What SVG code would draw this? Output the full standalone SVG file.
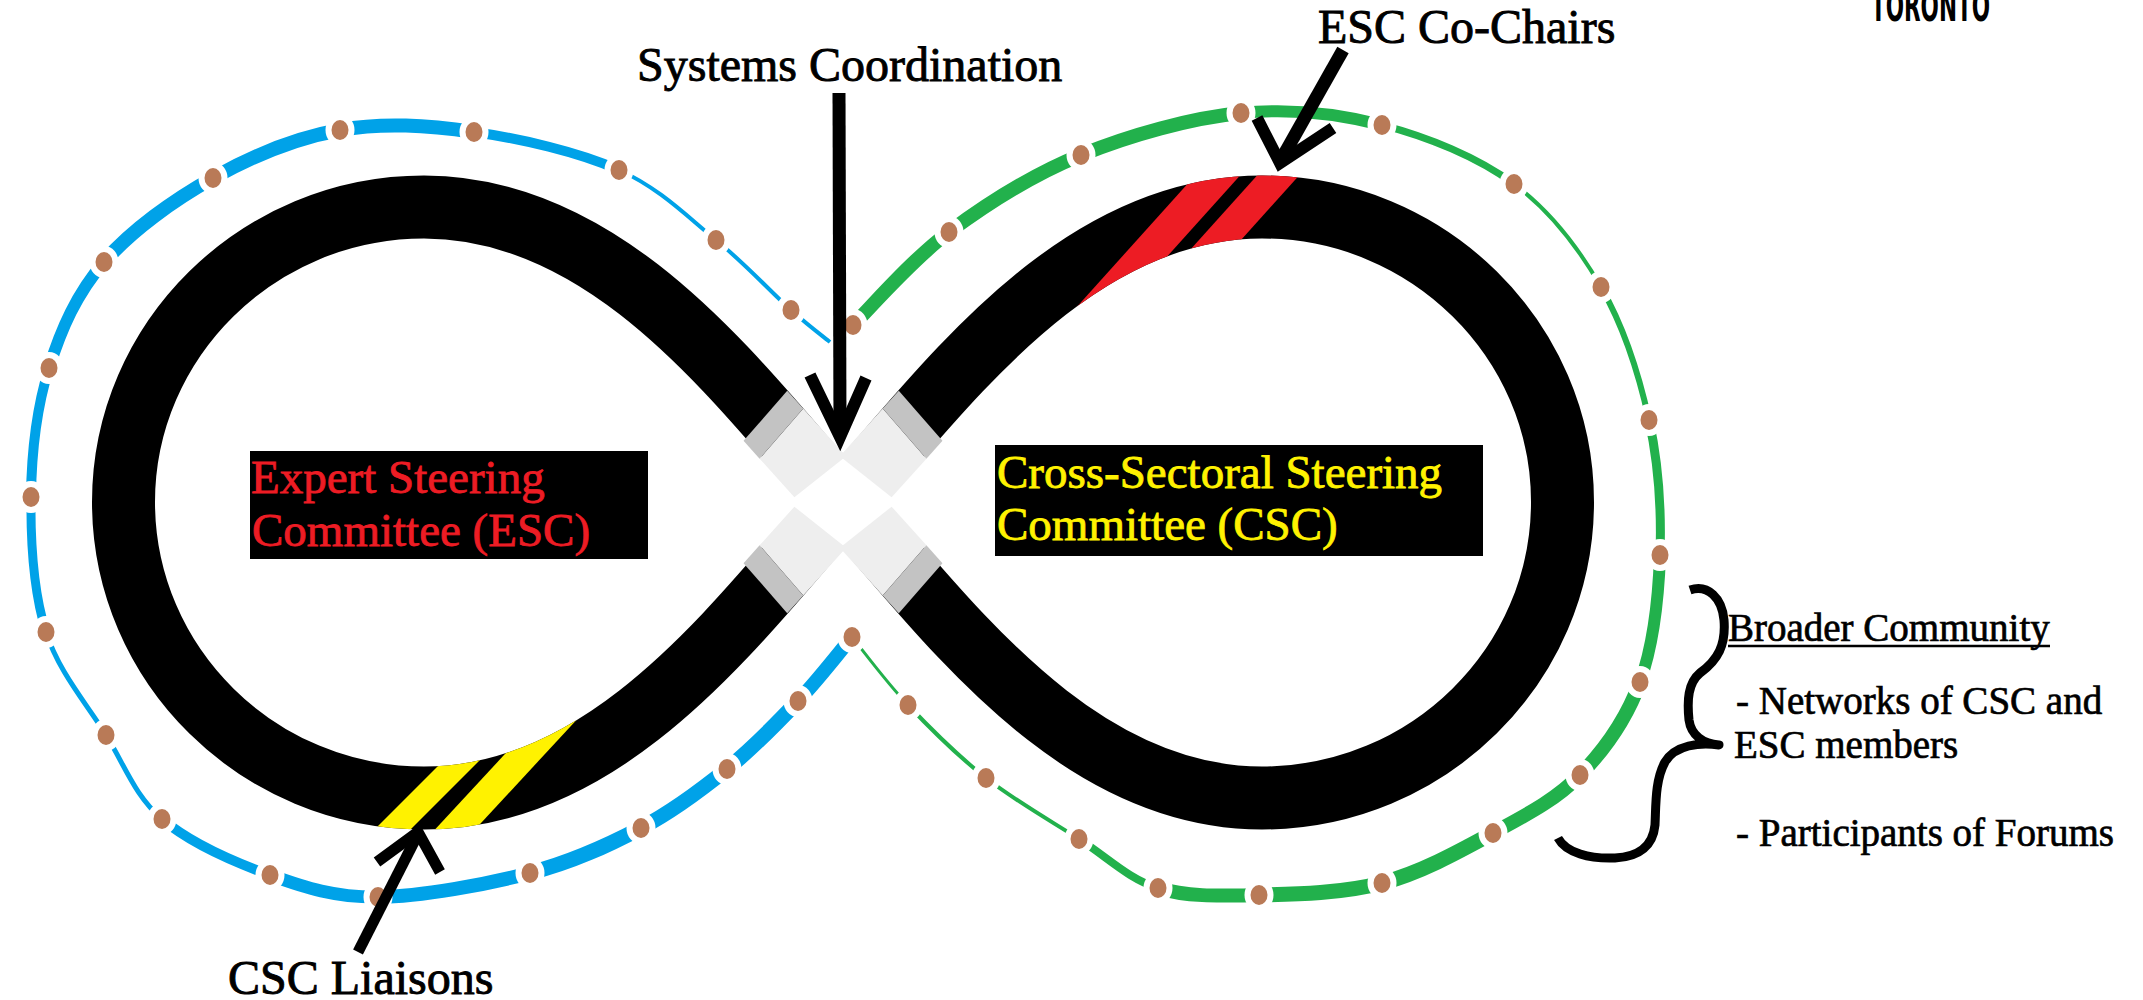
<svg xmlns="http://www.w3.org/2000/svg" xmlns:xlink="http://www.w3.org/1999/xlink" width="2143" height="1000" viewBox="0 0 2143 1000">
<style>
.serif{font-family:"Liberation Serif","Times New Roman",serif;}
.lbl{font-size:48px;fill:#000;stroke:#000;stroke-width:0.9;}
.box{font-size:47px;stroke-width:0.8;}
.red{fill:#ED1C24;stroke:#ED1C24;}
.yel{fill:#FFF200;stroke:#FFF200;}
.bc{font-size:39px;fill:#000;stroke:#000;stroke-width:0.7;}
.blue path{stroke:#00A2E8;fill:none;stroke-linecap:butt;}
.green path{stroke:#22B14C;fill:none;stroke-linecap:butt;}
.w3{stroke-width:3}.w4{stroke-width:4}.w5{stroke-width:5}.w6{stroke-width:6}.w7{stroke-width:7}.w8{stroke-width:8}.w9{stroke-width:9}.w10{stroke-width:10}.w12{stroke-width:12}.w13{stroke-width:13}.w14{stroke-width:14}.w15{stroke-width:15}
.dots ellipse{fill:#B97A57;stroke:#fff;stroke-width:12;paint-order:stroke;}
.arrow{fill:none;stroke:#000;stroke-linecap:butt;stroke-linejoin:miter;}
</style>
<defs>
<path id="loop" d="M843,502 C743,391 614,207 424,207 C258,207 123.5,340 123.5,502 C123.5,665 258,798 424,798 C614,798 743,613 843,502 C943,391 1072,207 1262,207 C1428,207 1562.5,340 1562.5,502 C1562.5,665 1428,798 1262,798 C1072,798 943,613 843,502 Z"/>
<mask id="band" maskUnits="userSpaceOnUse" x="0" y="0" width="2143" height="1000">
<use xlink:href="#loop" fill="none" stroke="#fff" stroke-width="63"/>
</mask>
<g id="armshade">
<polygon points="36,-33 88,-33 96,33 32,33" fill="#eeeeee"/>
<polygon points="88,-33 112,-33 120,33 96,33" fill="#c3c3c3"/>
</g>
</defs>
<rect width="2143" height="1000" fill="#fff"/>

<g id="broader-community-ring">
<g class="blue">
<path class="w4" d="M830,342 C823.5,336.7 810,327 791,310"/>
<path class="w4" d="M791,310 C772,293 744.7,263.3 716,240"/>
<path class="w4" d="M716,240 C687.3,216.7 659.3,188 619,170"/>
<path class="w10" d="M619,170 C578.7,152 520.5,138.7 474,132"/>
<path class="w14" d="M474,132 C427.5,125.3 383.5,122.3 340,130"/>
<path class="w14" d="M340,130 C296.5,137.7 252.3,156 213,178"/>
<path class="w14" d="M213,178 C173.7,200 131.3,230.3 104,262"/>
<path class="w12" d="M104,262 C76.7,293.7 61.2,328.8 49,368"/>
<path class="w10" d="M49,368 C36.8,407.2 31.5,453 31,497"/>
<path class="w9" d="M31,497 C30.5,541 33.5,592.3 46,632"/>
<path class="w5" d="M46,632 C58.5,671.7 86.7,703.8 106,735"/>
<path class="w5" d="M106,735 C125.3,766.2 134.7,795.7 162,819"/>
<path class="w10" d="M162,819 C189.3,842.3 234,862 270,875"/>
<path class="w13" d="M270,875 C306,888 334.7,897.3 378,897"/>
<path class="w14" d="M378,897 C421.3,896.7 486.2,884.5 530,873"/>
<path class="w15" d="M530,873 C573.8,861.5 608.2,845.3 641,828"/>
<path class="w15" d="M641,828 C673.8,810.7 700.8,790.2 727,769"/>
<path class="w15" d="M727,769 C753.2,747.8 777.2,723 798,701"/>
<path class="w14" d="M798,701 C818.8,679 843,647.7 852,637"/>
</g>
<g class="green">
<path class="w14" d="M853,325 C869,309.5 911,260.3 949,232"/>
<path class="w14" d="M949,232 C987,203.7 1032.3,174.8 1081,155"/>
<path class="w14" d="M1081,155 C1129.7,135.2 1190.8,118 1241,113"/>
<path class="w12" d="M1241,113 C1291.2,108 1336.5,113.2 1382,125"/>
<path class="w7" d="M1382,125 C1427.5,136.8 1477.5,157 1514,184"/>
<path class="w4" d="M1514,184 C1550.5,211 1578.5,247.7 1601,287"/>
<path class="w6" d="M1601,287 C1623.5,326.3 1639.2,375.3 1649,420"/>
<path class="w9" d="M1649,420 C1658.8,464.7 1661.5,511.3 1660,555"/>
<path class="w12" d="M1660,555 C1658.5,598.7 1653.3,645.3 1640,682"/>
<path class="w14" d="M1640,682 C1626.7,718.7 1604.5,749.8 1580,775"/>
<path class="w14" d="M1580,775 C1555.5,800.2 1526,815 1493,833"/>
<path class="w15" d="M1493,833 C1460,851 1421,872.7 1382,883"/>
<path class="w15" d="M1382,883 C1343,893.3 1296.3,894.2 1259,895"/>
<path class="w14" d="M1259,895 C1221.7,895.8 1188,897.3 1158,888"/>
<path class="w8" d="M1158,888 C1128,878.7 1107.7,857.3 1079,839"/>
<path class="w4" d="M1079,839 C1050.3,820.7 1014.5,800.3 986,778"/>
<path class="w4" d="M986,778 C957.5,755.7 930.3,728.5 908,705"/>
<path class="w3" d="M908,705 C885.7,681.5 861.3,648.3 852,637"/>
</g>
<g class="dots">
<ellipse cx="791" cy="310" rx="8.5" ry="10"/>
<ellipse cx="716" cy="240" rx="8.5" ry="10"/>
<ellipse cx="619" cy="170" rx="8.5" ry="10"/>
<ellipse cx="474" cy="132" rx="8.5" ry="10"/>
<ellipse cx="340" cy="130" rx="8.5" ry="10"/>
<ellipse cx="213" cy="178" rx="8.5" ry="10"/>
<ellipse cx="104" cy="262" rx="8.5" ry="10"/>
<ellipse cx="49" cy="368" rx="8.5" ry="10"/>
<ellipse cx="31" cy="497" rx="8.5" ry="10"/>
<ellipse cx="46" cy="632" rx="8.5" ry="10"/>
<ellipse cx="106" cy="735" rx="8.5" ry="10"/>
<ellipse cx="162" cy="819" rx="8.5" ry="10"/>
<ellipse cx="270" cy="875" rx="8.5" ry="10"/>
<ellipse cx="378" cy="897" rx="8.5" ry="10"/>
<ellipse cx="530" cy="873" rx="8.5" ry="10"/>
<ellipse cx="641" cy="828" rx="8.5" ry="10"/>
<ellipse cx="727" cy="769" rx="8.5" ry="10"/>
<ellipse cx="798" cy="701" rx="8.5" ry="10"/>
<ellipse cx="852" cy="637" rx="8.5" ry="10"/>
<ellipse cx="853" cy="325" rx="8.5" ry="10"/>
<ellipse cx="949" cy="232" rx="8.5" ry="10"/>
<ellipse cx="1081" cy="155" rx="8.5" ry="10"/>
<ellipse cx="1241" cy="113" rx="8.5" ry="10"/>
<ellipse cx="1382" cy="125" rx="8.5" ry="10"/>
<ellipse cx="1514" cy="184" rx="8.5" ry="10"/>
<ellipse cx="1601" cy="287" rx="8.5" ry="10"/>
<ellipse cx="1649" cy="420" rx="8.5" ry="10"/>
<ellipse cx="1660" cy="555" rx="8.5" ry="10"/>
<ellipse cx="1640" cy="682" rx="8.5" ry="10"/>
<ellipse cx="1580" cy="775" rx="8.5" ry="10"/>
<ellipse cx="1493" cy="833" rx="8.5" ry="10"/>
<ellipse cx="1382" cy="883" rx="8.5" ry="10"/>
<ellipse cx="1259" cy="895" rx="8.5" ry="10"/>
<ellipse cx="1158" cy="888" rx="8.5" ry="10"/>
<ellipse cx="1079" cy="839" rx="8.5" ry="10"/>
<ellipse cx="986" cy="778" rx="8.5" ry="10"/>
<ellipse cx="908" cy="705" rx="8.5" ry="10"/>
</g>
</g>

<g id="infinity-loop">
<use xlink:href="#loop" fill="none" stroke="#000" stroke-width="63"/>
<g mask="url(#band)">
<polygon fill="#ED1C24" points="1209,160 1254,160 1119,310 1074,310"/>
<polygon fill="#ED1C24" points="1271,160 1313,160 1178,310 1136,310"/>
<polygon fill="#FFF200" points="484,720 520,720 390,850 354,850"/>
<polygon fill="#FFF200" points="555,700 595,700 456,850 416,850"/>
</g>
<circle cx="843" cy="502" r="57" fill="#fff"/>
<use xlink:href="#armshade" transform="translate(843,502) rotate(-132)"/>
<use xlink:href="#armshade" transform="translate(843,502) rotate(-48) scale(1,-1)"/>
<use xlink:href="#armshade" transform="translate(843,502) rotate(48)"/>
<use xlink:href="#armshade" transform="translate(843,502) rotate(132) scale(1,-1)"/>
</g>

<g id="esc-node">
<rect x="250" y="451" width="398" height="108" fill="#000"/>
<text class="serif box red" x="251" y="493">Expert Steering</text>
<text class="serif box red" x="252" y="546">Committee (ESC)</text>
</g>

<g id="csc-node">
<rect x="995" y="445" width="488" height="111" fill="#000"/>
<text class="serif box yel" x="997" y="488">Cross-Sectoral Steering</text>
<text class="serif box yel" x="997" y="540">Committee (CSC)</text>
</g>

<g id="connectors">
<path class="arrow" stroke-width="13" d="M839,93 L840,430"/>
<polyline class="arrow" stroke-width="12" points="810,375 840,437 866,378"/>
<path class="arrow" stroke-width="13" d="M1343,50 L1282,158"/>
<polyline class="arrow" stroke-width="12" points="1257,118 1280,163 1333,128"/>
<path class="arrow" stroke-width="11" d="M358,952 L416,838"/>
<polyline class="arrow" stroke-width="11" points="377,862 418,832 440,872"/>
</g>

<g id="labels">
<text class="serif lbl" x="637" y="81">Systems Coordination</text>
<text class="serif lbl" x="1318" y="43">ESC Co-Chairs</text>
<text class="serif lbl" x="228" y="994">CSC Liaisons</text>
<text x="1871" y="21" font-family="'Liberation Sans Narrow','DejaVu Sans Condensed','Liberation Sans',sans-serif" font-weight="bold" font-size="42" textLength="119" lengthAdjust="spacingAndGlyphs" fill="#000">TORONTO</text>
</g>

<g id="broader-community">
<path fill="none" stroke="#000" stroke-width="9" stroke-linejoin="round" d="M1690,590 C1708,584 1722,598 1724,620 C1726,645 1718,660 1700,673 C1688,683 1687,700 1689,720 C1691,735 1703,744 1719,745 C1700,742 1675,745 1665,762 C1655,780 1656,805 1655,825 C1653,845 1640,857 1615,858 C1590,859 1566,853 1558,838"/>
<text class="serif bc" x="1728" y="641">Broader Community</text>
<line x1="1728" y1="646" x2="2050" y2="646" stroke="#000" stroke-width="2.5"/>
<text class="serif bc" x="1736" y="714">- Networks of CSC and</text>
<text class="serif bc" x="1734" y="758">ESC members</text>
<text class="serif bc" x="1736" y="846">- Participants of Forums</text>
</g>
</svg>
